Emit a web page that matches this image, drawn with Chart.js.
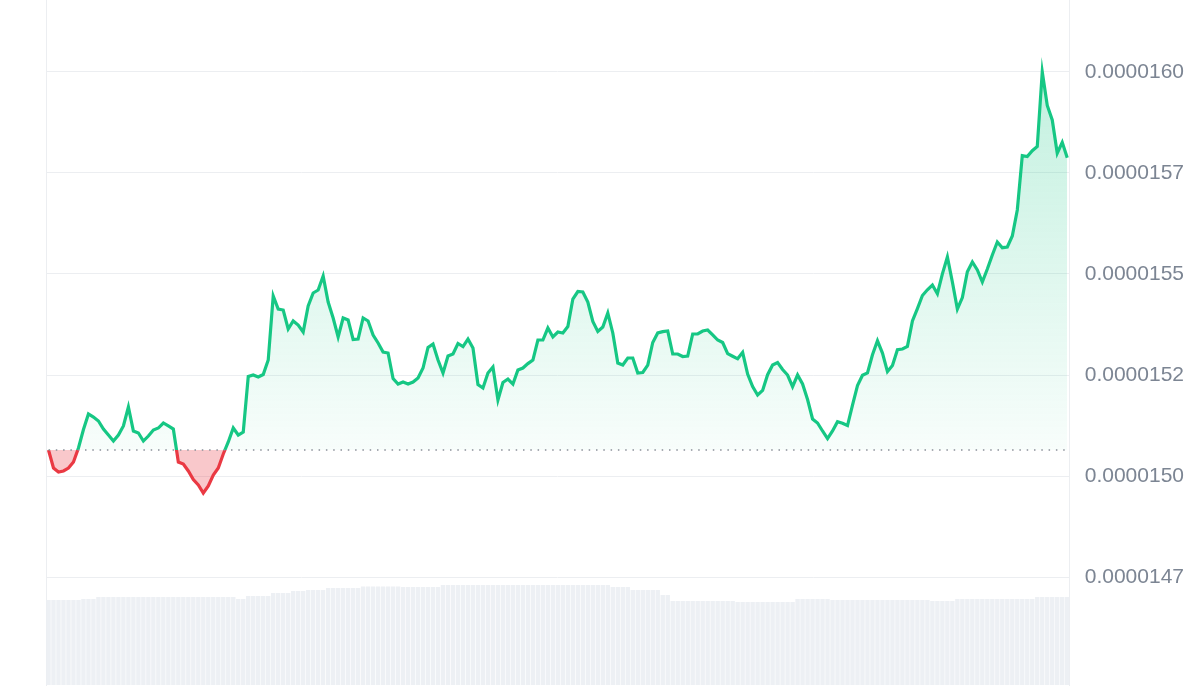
<!DOCTYPE html>
<html>
<head>
<meta charset="utf-8">
<script src="https://cdn.jsdelivr.net/npm/chart.js@4.4.1/dist/chart.umd.min.js"></script>
<style>
    html, body { margin: 0; padding: 0; background: #fff; }
    #wrap { width: 1200px; height: 700px; }
</style>
</head>
<body>
<div id="wrap"><canvas id="price-chart" width="1200" height="700"></canvas></div>
<script>
    'use strict';

    // price left to right
    const prices = [
        1.50644e-5, 1.50198e-5, 1.50099e-5, 1.50124e-5, 1.50198e-5, 1.50347e-5, 1.50693e-5, 1.51151e-5, 1.51535e-5, 1.51460e-5,
        1.51361e-5, 1.51163e-5, 1.51015e-5, 1.50866e-5, 1.51015e-5, 1.51238e-5, 1.51708e-5, 1.51114e-5, 1.51064e-5, 1.50866e-5,
        1.50990e-5, 1.51139e-5, 1.51188e-5, 1.51312e-5, 1.51238e-5, 1.51163e-5, 1.50347e-5, 1.50297e-5, 1.50124e-5, 1.49913e-5,
        1.49777e-5, 1.49579e-5, 1.49752e-5, 1.50025e-5, 1.50198e-5, 1.50545e-5, 1.50842e-5, 1.51188e-5, 1.51015e-5, 1.51089e-5,
        1.52463e-5, 1.52500e-5, 1.52450e-5, 1.52512e-5, 1.52871e-5, 1.54455e-5, 1.54134e-5, 1.54109e-5, 1.53639e-5, 1.53837e-5,
        1.53738e-5, 1.53564e-5, 1.54208e-5, 1.54530e-5, 1.54604e-5, 1.54950e-5, 1.54307e-5, 1.53911e-5, 1.53441e-5, 1.53911e-5,
        1.53861e-5, 1.53379e-5, 1.53391e-5, 1.53911e-5, 1.53837e-5, 1.53490e-5, 1.53292e-5, 1.53069e-5, 1.53044e-5, 1.52413e-5,
        1.52277e-5, 1.52327e-5, 1.52277e-5, 1.52327e-5, 1.52426e-5, 1.52673e-5, 1.53181e-5, 1.53267e-5, 1.52871e-5, 1.52549e-5,
        1.52970e-5, 1.53020e-5, 1.53280e-5, 1.53205e-5, 1.53391e-5, 1.53168e-5, 1.52265e-5, 1.52178e-5, 1.52549e-5, 1.52698e-5,
        1.51881e-5, 1.52314e-5, 1.52401e-5, 1.52277e-5, 1.52624e-5, 1.52673e-5, 1.52782e-5, 1.52871e-5, 1.53366e-5, 1.53366e-5,
        1.53663e-5, 1.53441e-5, 1.53564e-5, 1.53540e-5, 1.53700e-5, 1.54381e-5, 1.54567e-5, 1.54554e-5, 1.54307e-5, 1.53824e-5,
        1.53577e-5, 1.53688e-5, 1.54035e-5, 1.53540e-5, 1.52797e-5, 1.52747e-5, 1.52921e-5, 1.52921e-5, 1.52549e-5, 1.52562e-5,
        1.52747e-5, 1.53304e-5, 1.53540e-5, 1.53572e-5, 1.53589e-5, 1.53020e-5, 1.53020e-5, 1.52958e-5, 1.52970e-5, 1.53515e-5,
        1.53515e-5, 1.53589e-5, 1.53614e-5, 1.53495e-5, 1.53366e-5, 1.53304e-5, 1.53030e-5, 1.52965e-5, 1.52901e-5, 1.53062e-5,
        1.52525e-5, 1.52215e-5, 1.52005e-5, 1.52119e-5, 1.52507e-5, 1.52747e-5, 1.52807e-5, 1.52636e-5, 1.52500e-5, 1.52210e-5,
        1.52500e-5, 1.52277e-5, 1.51894e-5, 1.51411e-5, 1.51312e-5, 1.51114e-5, 1.50928e-5, 1.51114e-5, 1.51344e-5, 1.51307e-5,
        1.51250e-5, 1.51757e-5, 1.52238e-5, 1.52493e-5, 1.52554e-5, 1.53002e-5, 1.53347e-5, 1.53044e-5, 1.52584e-5, 1.52733e-5,
        1.53124e-5, 1.53144e-5, 1.53208e-5, 1.53837e-5, 1.54143e-5, 1.54468e-5, 1.54609e-5, 1.54728e-5, 1.54512e-5, 1.55005e-5,
        1.55421e-5, 1.54802e-5, 1.54134e-5, 1.54416e-5, 1.55057e-5, 1.55297e-5, 1.55099e-5, 1.54802e-5, 1.55124e-5, 1.55470e-5,
        1.55792e-5, 1.55651e-5, 1.55668e-5, 1.55940e-5, 1.56584e-5, 1.57931e-5, 1.57906e-5, 1.58052e-5, 1.58156e-5, 1.60000e-5,
        1.59171e-5, 1.58812e-5, 1.57990e-5, 1.58260e-5, 1.57879e-5
    ];

    // volume bars (same points), relative units
    const volumes = [
        8.5, 8.5, 8.5, 8.5, 8.5, 8.5, 8.5, 8.6, 8.6, 8.6,
        8.8, 8.8, 8.8, 8.8, 8.8, 8.8, 8.8, 8.8, 8.8, 8.8,
        8.8, 8.8, 8.8, 8.8, 8.8, 8.8, 8.8, 8.8, 8.8, 8.8,
        8.8, 8.8, 8.8, 8.8, 8.8, 8.8, 8.8, 8.8, 8.6, 8.6,
        8.9, 8.9, 8.9, 8.9, 8.9, 9.2, 9.2, 9.2, 9.2, 9.4,
        9.4, 9.4, 9.5, 9.5, 9.5, 9.5, 9.7, 9.7, 9.7, 9.7,
        9.7, 9.7, 9.7, 9.85, 9.85, 9.85, 9.85, 9.85, 9.85, 9.85,
        9.85, 9.8, 9.8, 9.8, 9.8, 9.8, 9.8, 9.8, 9.8, 10.0,
        10.0, 10.0, 10.0, 10.0, 10.0, 10.0, 10.0, 10.0, 10.0, 10.0,
        10.0, 10.0, 10.0, 10.0, 10.0, 10.0, 10.0, 10.0, 10.0, 10.0,
        10.0, 10.0, 10.0, 10.0, 10.0, 10.0, 10.0, 10.0, 10.0, 10.0,
        10.0, 10.0, 10.0, 9.8, 9.8, 9.8, 9.8, 9.5, 9.5, 9.5,
        9.5, 9.5, 9.5, 9.0, 9.0, 8.4, 8.4, 8.4, 8.4, 8.4,
        8.4, 8.4, 8.4, 8.4, 8.4, 8.4, 8.4, 8.4, 8.3, 8.3,
        8.3, 8.3, 8.3, 8.3, 8.3, 8.3, 8.3, 8.3, 8.3, 8.3,
        8.6, 8.6, 8.6, 8.6, 8.6, 8.6, 8.6, 8.5, 8.5, 8.5,
        8.5, 8.5, 8.5, 8.5, 8.5, 8.5, 8.5, 8.5, 8.5, 8.5,
        8.5, 8.5, 8.5, 8.5, 8.5, 8.5, 8.5, 8.4, 8.4, 8.4,
        8.4, 8.4, 8.6, 8.6, 8.6, 8.6, 8.6, 8.6, 8.6, 8.6,
        8.6, 8.6, 8.6, 8.6, 8.6, 8.6, 8.6, 8.6, 8.8, 8.8,
        8.8, 8.8, 8.8, 8.8, 8.8
    ];

    const tickValues = [1.475e-5, 1.5e-5, 1.525e-5, 1.55e-5, 1.575e-5, 1.6e-5];
    const tickLabels = ['0.0000147', '0.0000150', '0.0000152', '0.0000155', '0.0000157', '0.0000160'];

    const labels = prices.map(function (p, i) { return i; });
    const base = prices[0];

    const GREEN = 'rgb(22, 199, 132)';
    const RED = 'rgb(234, 57, 67)';

    // line colour flips at the opening price
    const splitStroke = function (context) {
        let chart = context.chart;
        let area = chart.chartArea;
        if (!area) return GREEN;
        let y = chart.scales.y.getPixelForValue(base);
        let f = Math.min(Math.max((y - area.top) / (area.bottom - area.top), 0), 1);
        let g = chart.ctx.createLinearGradient(0, area.top, 0, area.bottom);
        g.addColorStop(0, GREEN);
        g.addColorStop(f, GREEN);
        g.addColorStop(f, RED);
        g.addColorStop(1, RED);
        return g;
    };

    const greenFill = function (context) {
        let chart = context.chart;
        let area = chart.chartArea;
        if (!area) return 'rgba(22, 199, 132, 0.15)';
        let y = chart.scales.y.getPixelForValue(base);
        let g = chart.ctx.createLinearGradient(0, area.top, 0, y);
        g.addColorStop(0, 'rgba(22, 199, 132, 0.30)');
        g.addColorStop(1, 'rgba(22, 199, 132, 0.03)');
        return g;
    };

    new Chart(document.getElementById('price-chart'), {
        data: {
            labels: labels,
            datasets: [{
                type: 'line',
                label: 'Price',
                data: prices,
                yAxisID: 'y',
                borderColor: splitStroke,
                backgroundColor: greenFill,
                borderWidth: 3.2,
                pointRadius: 0,
                tension: 0,
                fill: { target: { value: base }, below: 'rgba(234, 57, 67, 0.28)' },
                order: 1
            }, {
                type: 'line',
                label: 'Open',
                data: labels.map(function () { return base; }),
                yAxisID: 'y',
                borderColor: '#8b9099',
                borderWidth: 1.5,
                borderDash: [1.5, 5.8],
                pointRadius: 0,
                fill: false,
                order: 0
            }, {
                type: 'bar',
                label: 'Volume',
                data: volumes,
                yAxisID: 'yVol',
                backgroundColor: '#edf0f4',
                barPercentage: 0.88,
                categoryPercentage: 1,
                order: 3
            }]
        },
        options: {
            responsive: false,
            animation: false,
            devicePixelRatio: 1,
            layout: { padding: { left: 46, right: 1, top: 0, bottom: 15 } },
            plugins: {
                legend: { display: false },
                tooltip: { enabled: false }
            },
            scales: {
                x: { display: false },
                y: {
                    position: 'right',
                    min: 1.448270e-5,
                    max: 1.617820e-5,
                    afterBuildTicks: function (scale) {
                        scale.ticks = tickValues.map(function (v) { return { value: v }; });
                    },
                    afterFit: function (scale) {
                        scale.paddingTop = 0;
                        scale.paddingBottom = 0;
                    },
                    ticks: {
                        padding: 15,
                        color: '#7c8593',
                        font: { family: '"Liberation Sans", Arial, sans-serif', size: 21 },
                        callback: function (value, index) { return tickLabels[index]; }
                    },
                    grid: { color: '#eceef1', drawTicks: false },
                    border: { display: true, color: '#eceef1' }
                },
                yVol: {
                    position: 'left',
                    min: 0,
                    max: 68.5,
                    ticks: { display: false },
                    grid: { display: false, drawTicks: false },
                    border: { display: true, color: '#eceef1' },
                    afterFit: function (scale) {
                        scale.paddingTop = 0;
                        scale.paddingBottom = 0;
                    }
                }
            }
        }
    });
</script>
</body>
</html>
